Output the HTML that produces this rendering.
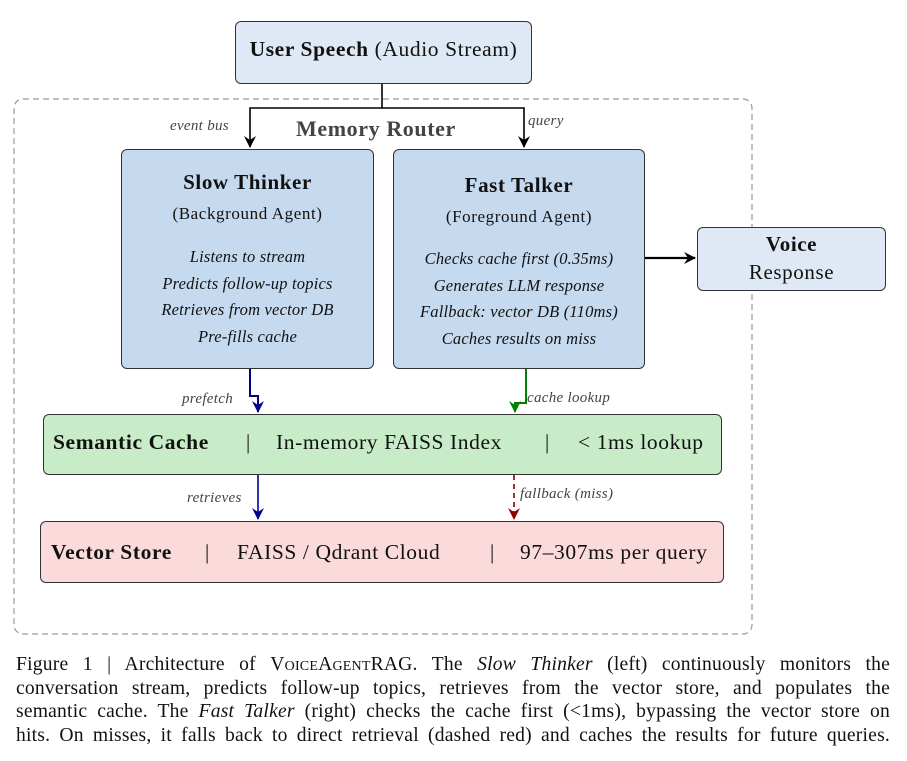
<!DOCTYPE html>
<html><head><style>
body{margin:0;background:#fff;width:907px;height:761px;position:relative;overflow:hidden;font-family:"Liberation Serif",serif;color:#111;letter-spacing:0.6px}
.b{position:absolute;box-sizing:border-box;border:1.5px solid #333;border-radius:6px}
.t{position:absolute;white-space:nowrap}
.cap{position:absolute;left:16px;width:874px;top:653px;font-size:19.6px;line-height:23.5px;letter-spacing:0.2px}
.cap div{text-align:justify;text-align-last:justify;white-space:nowrap}
</style></head><body>
<svg width="907" height="761" style="position:absolute;left:0;top:0">
<defs>
<marker id="ak" markerWidth="12" markerHeight="12" refX="11" refY="6" orient="auto" markerUnits="userSpaceOnUse"><path d="M0,0 L12,6 L0,12 L4,6z" fill="#000"/></marker>
<marker id="ab" markerWidth="12" markerHeight="12" refX="11" refY="6" orient="auto" markerUnits="userSpaceOnUse"><path d="M0,0 L12,6 L0,12 L4,6z" fill="#00008b"/></marker>
<marker id="ag" markerWidth="12" markerHeight="12" refX="11" refY="6" orient="auto" markerUnits="userSpaceOnUse"><path d="M0,0 L12,6 L0,12 L4,6z" fill="#008000"/></marker>
<marker id="ar" markerWidth="12" markerHeight="12" refX="11" refY="6" orient="auto" markerUnits="userSpaceOnUse"><path d="M0,0 L12,6 L0,12 L4,6z" fill="#8b0000"/></marker>
</defs>
<rect x="14" y="99" width="738" height="535" rx="9" fill="none" stroke="#999" stroke-width="1.2" stroke-dasharray="6,4"/>
<path d="M382,84 V108 H250 V147" fill="none" stroke="#000" stroke-width="1.6" marker-end="url(#ak)"/>
<path d="M382,108 H524 V147" fill="none" stroke="#000" stroke-width="1.6" marker-end="url(#ak)"/>
<path d="M645,258 H695" fill="none" stroke="#000" stroke-width="2.2" marker-end="url(#ak)"/>
<path d="M250,369 V396 H258 V412" fill="none" stroke="#00008b" stroke-width="2" marker-end="url(#ab)"/>
<path d="M526,369 V403 H515 V412" fill="none" stroke="#008000" stroke-width="2" marker-end="url(#ag)"/>
<path d="M258,475 V519" fill="none" stroke="#00008b" stroke-width="1.6" marker-end="url(#ab)"/>
<path d="M514,475 V519" fill="none" stroke="#8b0000" stroke-width="1.6" stroke-dasharray="5,4" marker-end="url(#ar)"/>
</svg>
<div class="b" style="left:235px;top:21px;width:297px;height:63px;background:#dfe9f6"></div>
<div class="t" style="left:235px;width:297px;top:37px;text-align:center;font-size:21.5px"><b>User Speech</b> (Audio Stream)</div>
<div class="t" style="left:170px;top:118px;font-size:15px;font-style:italic;color:#444;letter-spacing:0.3px">event bus</div>
<div class="t" style="left:296px;top:116px;font-size:22px;font-weight:bold;color:#444">Memory Router</div>
<div class="t" style="left:528px;top:113px;font-size:15px;font-style:italic;color:#444;letter-spacing:0.3px">query</div>
<div class="b" style="left:121px;top:149px;width:253px;height:220px;background:#c5d9ef"></div>
<div class="t" style="left:121px;width:253px;text-align:center;top:170px;font-size:21px;font-weight:bold">Slow Thinker</div>
<div class="t" style="left:121px;width:253px;text-align:center;top:204px;font-size:17px">(Background Agent)</div>
<div class="t" style="left:121px;width:253px;text-align:center;top:244px;font-size:16.5px;font-style:italic;line-height:26.5px;letter-spacing:0.2px">Listens to stream<br>Predicts follow-up topics<br>Retrieves from vector DB<br>Pre-fills cache</div>
<div class="b" style="left:393px;top:149px;width:252px;height:220px;background:#c5d9ef"></div>
<div class="t" style="left:393px;width:252px;text-align:center;top:173px;font-size:21px;font-weight:bold">Fast Talker</div>
<div class="t" style="left:393px;width:252px;text-align:center;top:207px;font-size:17px">(Foreground Agent)</div>
<div class="t" style="left:393px;width:252px;text-align:center;top:246px;font-size:16.5px;font-style:italic;line-height:26.5px;letter-spacing:0.2px">Checks cache first (0.35ms)<br>Generates LLM response<br>Fallback: vector DB (110ms)<br>Caches results on miss</div>
<div class="b" style="left:697px;top:227px;width:189px;height:64px;background:#dfe9f6"></div>
<div class="t" style="left:697px;width:189px;text-align:center;top:230px;font-size:21px;line-height:28px"><b>Voice</b><br>Response</div>
<div class="t" style="left:182px;top:391px;font-size:15px;font-style:italic;color:#444;letter-spacing:0.3px">prefetch</div>
<div class="t" style="left:527px;top:390px;font-size:15px;font-style:italic;color:#444;letter-spacing:0.3px">cache lookup</div>
<div class="b" style="left:43px;top:414px;width:679px;height:61px;background:#c8ebc8"></div>
<div class="t" style="left:53px;top:430px;font-size:21.5px;font-weight:bold">Semantic Cache</div>
<div class="t" style="left:246px;top:430px;font-size:21px">|</div>
<div class="t" style="left:276px;top:430px;font-size:21.5px">In-memory FAISS Index</div>
<div class="t" style="left:545px;top:430px;font-size:21px">|</div>
<div class="t" style="left:578px;top:430px;font-size:21.5px">&lt; 1ms lookup</div>
<div class="t" style="left:187px;top:490px;font-size:15px;font-style:italic;color:#444;letter-spacing:0.3px">retrieves</div>
<div class="t" style="left:520px;top:486px;font-size:15px;font-style:italic;color:#444;letter-spacing:0.3px">fallback (miss)</div>
<div class="b" style="left:40px;top:521px;width:684px;height:62px;background:#fadadb"></div>
<div class="t" style="left:51px;top:540px;font-size:21.5px;font-weight:bold">Vector Store</div>
<div class="t" style="left:205px;top:540px;font-size:21px">|</div>
<div class="t" style="left:237px;top:540px;font-size:21.5px">FAISS / Qdrant Cloud</div>
<div class="t" style="left:490px;top:540px;font-size:21px">|</div>
<div class="t" style="left:520px;top:540px;font-size:21.5px">97–307ms per query</div>
<div class="cap">
<div>Figure 1 | Architecture of <span style="font-variant:small-caps">VoiceAgentRAG</span>. The <i>Slow Thinker</i> (left) continuously monitors the</div>
<div>conversation stream, predicts follow-up topics, retrieves from the vector store, and populates the</div>
<div>semantic cache. The <i>Fast Talker</i> (right) checks the cache first (&lt;1ms), bypassing the vector store on</div>
<div>hits. On misses, it falls back to direct retrieval (dashed red) and caches the results for future queries.</div>
</div>
</body></html>
